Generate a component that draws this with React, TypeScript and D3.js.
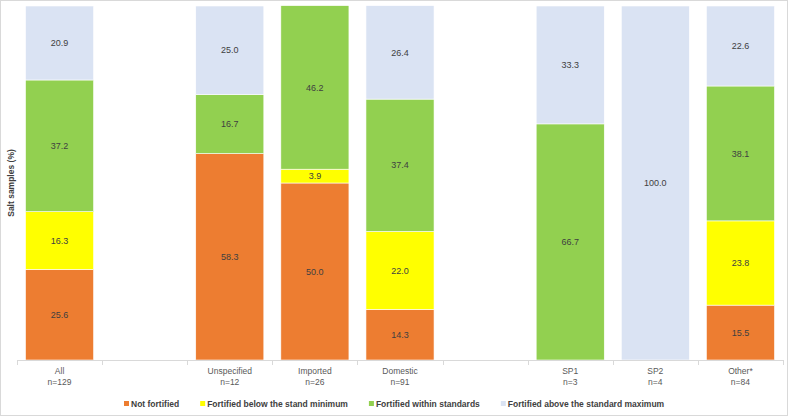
import React, { useRef, useEffect } from 'react';
import * as d3 from 'd3';

// Categories (empty strings are spacer slots in the original layout)
const categories = ["All", "", "Unspecified", "Imported", "Domestic", "", "SP1", "SP2", "Other*"];
const sampleSizes = ["n=129", "", "n=12", "n=26", "n=91", "", "n=3", "n=4", "n=84"];

// Percent of salt samples per category, null for spacer slots
const notFortified = [25.6, null, 58.3, 50.0, 14.3, null, 0, 0, 15.5];
const belowMinimum = [16.3, null, 0, 3.9, 22.0, null, 0, 0, 23.8];
const withinStandards = [37.2, null, 16.7, 46.2, 37.4, null, 66.7, 0, 38.1];
const aboveMaximum = [20.9, null, 25.0, 0, 26.4, null, 33.3, 100.0, 22.6];

const seriesNames = [
    "Not fortified",
    "Fortified below the stand minimum",
    "Fortified within standards",
    "Fortified above the standard maximum"
];
const seriesColors = ["#ED7D31", "#FFFF00", "#92D050", "#DAE3F3"];

const W = 788;
const H = 416;

export default function App() {
    const svgRef = useRef<SVGSVGElement>(null);

    useEffect(() => {
        if (!svgRef.current) return;
        const svg = d3.select(svgRef.current);
        svg.selectAll("*").remove();

        const margin = { top: 6, right: 5, bottom: 56, left: 17 };
        const baseY = H - margin.bottom;

        // frame
        svg.append("rect")
            .attr("x", 0.5).attr("y", 0.5)
            .attr("width", W - 1).attr("height", H - 1)
            .attr("fill", "#fff")
            .attr("stroke", "#d9d9d9");

        const idx = d3.range(categories.length);
        const x = d3.scaleBand<number>()
            .domain(idx)
            .range([margin.left, W - margin.right])
            .paddingInner(0.2)
            .paddingOuter(0.1);

        const y = d3.scaleLinear()
            .domain([0, 100])
            .range([baseY, margin.top]);

        const rows = idx.map(i => ({
            i,
            s0: notFortified[i] ?? 0,
            s1: belowMinimum[i] ?? 0,
            s2: withinStandards[i] ?? 0,
            s3: aboveMaximum[i] ?? 0,
            empty: notFortified[i] === null
        }));
        const keys = ["s0", "s1", "s2", "s3"];
        const stacked = d3.stack<any>().keys(keys)(rows.filter(r => !r.empty));

        // bars
        const layers = svg.append("g")
            .selectAll("g")
            .data(stacked)
            .join("g")
            .attr("fill", (d, k) => seriesColors[k]);

        layers.selectAll("rect")
            .data(d => d.filter(s => s[1] - s[0] > 0))
            .join("rect")
            .attr("x", d => x(d.data.i)!)
            .attr("width", x.bandwidth())
            .attr("y", d => y(d[1]))
            .attr("height", d => y(d[0]) - y(d[1]))
            .attr("stroke", "#fff")
            .attr("stroke-width", 0.6);

        // value labels
        layers.selectAll("text")
            .data(d => d.filter(s => s[1] - s[0] > 0))
            .join("text")
            .attr("x", d => x(d.data.i)! + x.bandwidth() / 2)
            .attr("y", d => (y(d[0]) + y(d[1])) / 2)
            .attr("dy", "0.35em")
            .attr("text-anchor", "middle")
            .attr("font-family", "Liberation Sans, Arial, sans-serif")
            .attr("font-size", 9)
            .attr("fill", "#404040")
            .text(d => (d[1] - d[0]).toFixed(1));

        // x axis
        const axis = svg.append("g");
        axis.append("line")
            .attr("x1", x.range()[0]).attr("x2", x.range()[1])
            .attr("y1", baseY + 0.5).attr("y2", baseY + 0.5)
            .attr("stroke", "#d9d9d9");
        const bounds = idx.map(i => x(i)! - x.step() * x.paddingInner() / 2);
        bounds.push(x.range()[1]);
        bounds[0] = x.range()[0];
        axis.selectAll("line.tick")
            .data(bounds)
            .join("line")
            .attr("class", "tick")
            .attr("x1", d => Math.round(d) + 0.5).attr("x2", d => Math.round(d) + 0.5)
            .attr("y1", baseY).attr("y2", baseY + 5)
            .attr("stroke", "#d9d9d9");

        const catLabels = axis.selectAll("g.cat")
            .data(idx)
            .join("g")
            .attr("class", "cat")
            .attr("font-family", "Liberation Sans, Arial, sans-serif")
            .attr("font-size", 8.5)
            .attr("fill", "#595959")
            .attr("text-anchor", "middle");
        catLabels.append("text")
            .attr("x", i => x(i)! + x.bandwidth() / 2)
            .attr("y", baseY + 14)
            .text(i => categories[i]);
        catLabels.append("text")
            .attr("x", i => x(i)! + x.bandwidth() / 2)
            .attr("y", baseY + 25)
            .text(i => sampleSizes[i]);

        // y axis title
        svg.append("text")
            .attr("transform", `translate(14,${(baseY + margin.top) / 2}) rotate(-90)`)
            .attr("text-anchor", "middle")
            .attr("font-family", "Liberation Sans, Arial, sans-serif")
            .attr("font-size", 8.5)
            .attr("font-weight", "bold")
            .attr("fill", "#404040")
            .text("Salt samples (%)");

        // legend
        const legend = svg.append("g")
            .attr("font-family", "Liberation Sans, Arial, sans-serif")
            .attr("font-size", 8.5)
            .attr("font-weight", "bold")
            .attr("fill", "#404040");
        let lx = 124;
        const ly = 404;
        seriesNames.forEach((name, k) => {
            legend.append("rect")
                .attr("x", lx).attr("y", ly - 3)
                .attr("width", 5).attr("height", 5)
                .attr("fill", seriesColors[k]);
            const t = legend.append("text")
                .attr("x", lx + 7).attr("y", ly)
                .attr("dy", "0.35em")
                .text(name);
            const len = (t.node() as SVGTextElement).getComputedTextLength();
            lx += 7 + len + 21;
        });
    }, []);

    return (
        <svg
            ref={svgRef}
            width={W}
            height={H}
            viewBox={`0 0 ${W} ${H}`}
            style={{ position: 'absolute', left: 0, top: 0 }}
        />
    );
}
